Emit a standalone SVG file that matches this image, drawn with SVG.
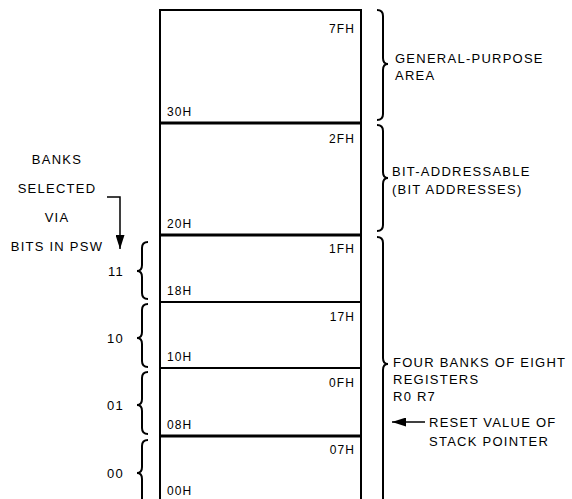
<svg xmlns="http://www.w3.org/2000/svg" width="572" height="499" viewBox="0 0 572 499">
<defs>
<style>
text{font-family:"Liberation Sans",Arial,sans-serif;fill:#000;}
.hex{font-size:12px;letter-spacing:1.1px;}
.lbl{font-size:13px;letter-spacing:1.25px;}
.box{fill:#fff;stroke:#000;stroke-width:2;}
.thick{stroke:#000;stroke-width:3;}
.thin{stroke:#000;stroke-width:2;}
.brace{fill:none;stroke:#000;stroke-width:2;}
.conn{fill:none;stroke:#000;stroke-width:1.5;}
</style>
<marker id="ah2" viewBox="0 0 10 10" refX="10" refY="5" markerWidth="14" markerHeight="9" markerUnits="userSpaceOnUse" orient="auto" preserveAspectRatio="none">
<path d="M0,0 L10,5 L0,10 z" fill="#000"/>
</marker>
</defs>
<rect class="box" x="160" y="10" width="201" height="500"/>
<g id="gp">
<text class="hex" x="355" y="33" text-anchor="end">7FH</text>
<text class="hex" x="167" y="116">30H</text>
</g>
<line class="thick" x1="160" y1="123" x2="361" y2="123"/>
<g id="bitaddr">
<text class="hex" x="355" y="143" text-anchor="end">2FH</text>
<text class="hex" x="167" y="228">20H</text>
</g>
<line class="thick" x1="160" y1="235" x2="361" y2="235"/>
<g id="bank3">
<text class="hex" x="355" y="253" text-anchor="end">1FH</text>
<text class="hex" x="167" y="295">18H</text>
</g>
<line class="thin" x1="160" y1="302" x2="361" y2="302"/>
<g id="bank2">
<text class="hex" x="355" y="321" text-anchor="end">17H</text>
<text class="hex" x="167" y="361">10H</text>
</g>
<line class="thin" x1="160" y1="368" x2="361" y2="368"/>
<g id="bank1">
<text class="hex" x="355" y="387" text-anchor="end">0FH</text>
<text class="hex" x="167" y="429">08H</text>
</g>
<line class="thick" x1="160" y1="436" x2="361" y2="436"/>
<g id="bank0">
<text class="hex" x="355" y="454" text-anchor="end">07H</text>
<text class="hex" x="167" y="495">00H</text>
</g>
<g id="braces-right">
<path class="brace" d="M377,10 Q383,10 383,16 L383,58 Q383,64 388,64 Q383,64 383,70 L383,114 Q383,120 377,120"/>
<path class="brace" d="M377,125 Q383,125 383,131 L383,172 Q383,178 388,178 Q383,178 383,184 L383,225 Q383,231 377,231"/>
<path class="brace" d="M377,237 Q383,237 383,243 L383,358 Q383,364 388,364 Q383,364 383,370 L383,505"/>
</g>
<g id="braces-left">
<path class="brace" d="M148,242 Q142,242 142,248 L142,265 Q142,271 137,271 Q142,271 142,277 L142,293 Q142,299 148,299"/>
<path class="brace" d="M148,304 Q142,304 142,310 L142,332 Q142,338 137,338 Q142,338 142,344 L142,361 Q142,367 148,367"/>
<path class="brace" d="M148,372 Q142,372 142,378 L142,399 Q142,405 137,405 Q142,405 142,411 L142,428 Q142,434 148,434"/>
<path class="brace" d="M148,440 Q142,440 142,446 L142,467 Q142,473 137,473 Q142,473 142,479 L142,505"/>
</g>
<g id="labels-right">
<text class="lbl" x="395" y="63">GENERAL-PURPOSE</text>
<text class="lbl" x="395" y="80">AREA</text>
<text class="lbl" x="392" y="176">BIT-ADDRESSABLE</text>
<text class="lbl" x="392" y="194">(BIT ADDRESSES)</text>
<text class="lbl" x="393" y="367">FOUR BANKS OF EIGHT</text>
<text class="lbl" x="393" y="384">REGISTERS</text>
<text class="lbl" x="393" y="401">R0 R7</text>
<text class="lbl" x="429" y="427">RESET VALUE OF</text>
<text class="lbl" x="429" y="446">STACK POINTER</text>
</g>
<g id="labels-left">
<text class="lbl" x="57" y="164" text-anchor="middle">BANKS</text>
<text class="lbl" x="57" y="193" text-anchor="middle">SELECTED</text>
<text class="lbl" x="57" y="222" text-anchor="middle">VIA</text>
<text class="lbl" x="57" y="251" text-anchor="middle">BITS IN PSW</text>
<text class="lbl" x="124" y="276" text-anchor="end">11</text>
<text class="lbl" x="124" y="343" text-anchor="end">10</text>
<text class="lbl" x="124" y="410" text-anchor="end">01</text>
<text class="lbl" x="124" y="478" text-anchor="end">00</text>
</g>
<g id="connectors">
<path class="conn" d="M107,197 L120,197 L120,249" marker-end="url(#ah2)"/>
<path class="conn" d="M425,422 L392,422" marker-end="url(#ah2)"/>
</g>
</svg>
